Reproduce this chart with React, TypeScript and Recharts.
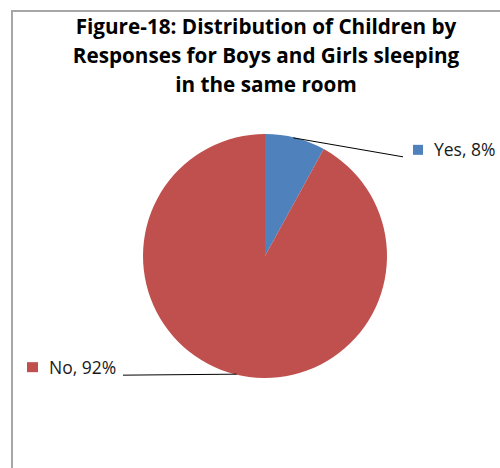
import React from 'react';
import { PieChart, Pie, Cell } from 'recharts';

const categories = ['Yes', 'No'];
const shares = [8, 92];
const COLORS = ['#4F81BD', '#C0504D'];
const TITLE_LINES = [
    'Figure-18: Distribution of Children by',
    'Responses for Boys and Girls sleeping',
    'in the same room',
];

const data = categories.map((name, i) => ({ name, value: shares[i] }));

const RAD = Math.PI / 180;
const LABEL_FONT = '"Open Sans", sans-serif';

const renderLabel = (props: any) => {
    const { cx, cy, midAngle, outerRadius, name, value, index } = props;
    const sx = cx + outerRadius * Math.cos(-midAngle * RAD);
    const sy = cy + outerRadius * Math.sin(-midAngle * RAD);
    const right = sx >= cx;
    const text = `${name}, ${value}%`;
    const color = COLORS[index % COLORS.length];
    if (right) {
        const ex = cx + outerRadius + 16;
        const ey = sy + 19;
        return (
            <g>
                <line x1={sx - 2} y1={sy} x2={ex} y2={ey} stroke="#000" strokeWidth={1} />
                <rect x={ex + 10} y={ey - 12} width={10} height={10} fill={color} />
                <text x={ex + 31} y={ey - 1} fill="#1a1a1a" fontSize={17.5} fontFamily={LABEL_FONT}>
                    {text}
                </text>
            </g>
        );
    }
    const ex = cx - outerRadius - 20;
    const ey = sy + 1;
    return (
        <g>
            <line x1={sx + 2} y1={sy} x2={ex} y2={ey} stroke="#000" strokeWidth={1} />
            <rect x={ex - 96} y={ey - 13} width={11} height={10} fill={color} />
            <text x={ex - 74} y={ey - 1} fill="#1a1a1a" fontSize={17.5} fontFamily={LABEL_FONT}>
                {text}
            </text>
        </g>
    );
};

export default function App() {
    return (
        <div style={{ position: 'absolute', left: 0, top: 0, width: 500, height: 468, background: '#fff', overflow: 'hidden' }}>
            <div
                style={{
                    position: 'absolute',
                    left: 11,
                    top: 10,
                    width: 520,
                    height: 500,
                    borderLeft: '2px solid #a6a6a6',
                    borderTop: '2px solid #a6a6a6',
                }}
            />
            <div
                style={{
                    position: 'absolute',
                    left: 26,
                    top: 12,
                    width: 480,
                    textAlign: 'center',
                    fontFamily: LABEL_FONT,
                    fontWeight: 700,
                    fontSize: 20.7,
                    lineHeight: '29px',
                    color: '#000',
                    whiteSpace: 'nowrap',
                }}
            >
                {TITLE_LINES.map((l) => (
                    <div key={l}>{l}</div>
                ))}
            </div>
            <div style={{ position: 'absolute', left: 0, top: 0 }}>
                <PieChart width={500} height={468} margin={{ top: 0, right: 0, bottom: 0, left: 0 }}>
                    <Pie
                        data={data}
                        dataKey="value"
                        nameKey="name"
                        cx={265}
                        cy={256}
                        outerRadius={122}
                        startAngle={90}
                        endAngle={-270}
                        stroke="none"
                        label={renderLabel}
                        labelLine={false}
                        isAnimationActive={false}
                    >
                        {data.map((_, i) => (
                            <Cell key={`cell-${i}`} fill={COLORS[i % COLORS.length]} />
                        ))}
                    </Pie>
                </PieChart>
            </div>
        </div>
    );
}
